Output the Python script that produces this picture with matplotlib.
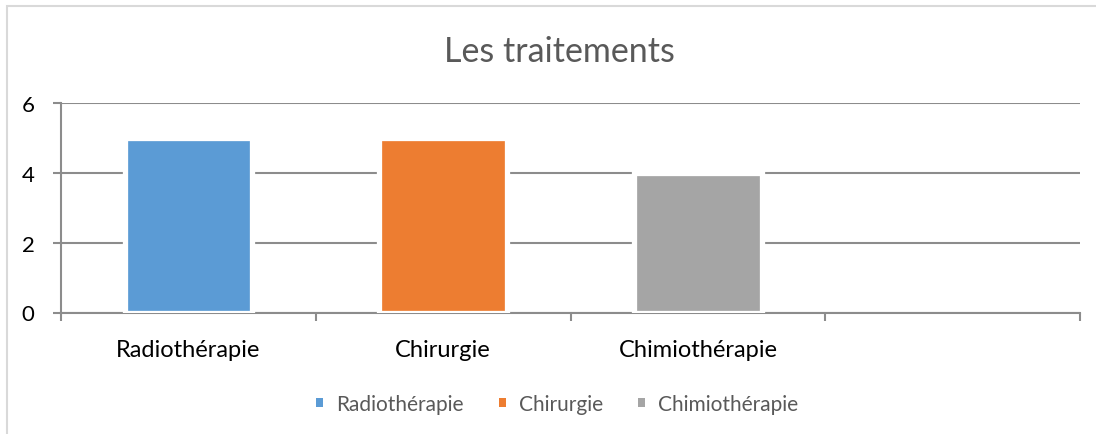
import matplotlib
matplotlib.use("Agg")
import matplotlib.pyplot as plt
from matplotlib.patches import Patch, Rectangle

categories = ["Radiothérapie", "Chirurgie", "Chimiothérapie", ""]
series_names = ["Radiothérapie", "Chirurgie", "Chimiothérapie"]
values = [5, 5, 4]
colors = ["#5B9BD5", "#ED7D31", "#A5A5A5"]
y_ticks = [0, 2, 4, 6]

plt.rcParams['font.family'] = ['Lato', 'DejaVu Sans']

W, H = 1096, 435
fig = plt.figure(figsize=(W / 100, H / 100), dpi=100)

# chart area border
fig.patches.append(Rectangle((7 / W, -0.1), 1.2, 1 - 6.5 / H + 0.1, transform=fig.transFigure,
                             fill=False, edgecolor="#D9D9D9", linewidth=1.5))

ax = fig.add_axes([61 / W, 1 - 313.5 / H, (1080 - 61) / W, (313.5 - 104.3) / H])

grid_c = "#8C8C8C"
for i, (v, c) in enumerate(zip(values, colors)):
    ax.bar(i, v, width=0.5, color=c, edgecolor="white", linewidth=3.8, zorder=3)

ax.set_xlim(-0.5, len(categories) - 0.5)
ax.set_ylim(0, 6)
ax.set_yticks(y_ticks)
ax.set_yticklabels([str(t) for t in y_ticks])
ax.yaxis.grid(True, color=grid_c, linewidth=1.5, zorder=0)
ax.set_axisbelow(True)

ax.set_xticks([i - 0.5 for i in range(len(categories) + 1)])
ax.set_xticklabels([])
ax.set_xticks(range(len(categories)), minor=True)
ax.set_xticklabels(categories, minor=True)

ax.tick_params(axis='x', which='major', length=6, width=1.5, color=grid_c, direction='out')
ax.tick_params(axis='x', which='minor', length=0, pad=19, labelsize=17, labelcolor="#000000")
ax.tick_params(axis='y', length=6, width=1.5, color=grid_c, direction='out', pad=13,
               labelsize=16, labelcolor="#000000")

for s in ['top', 'right']:
    ax.spines[s].set_visible(False)
for s in ['left', 'bottom']:
    ax.spines[s].set_color(grid_c)
    ax.spines[s].set_linewidth(1.5)

fig.text(559 / W, 1 - 61.7 / H, "Les traitements", ha='center', va='baseline',
         fontsize=24.5, color="#595959")

handles = [Patch(facecolor=c, edgecolor='none') for c in colors]
fig.legend(handles, series_names, loc='center', bbox_to_anchor=(557 / W, 1 - 405 / H),
           ncol=3, frameon=False, fontsize=15, labelcolor="#595959",
           handlelength=0.35, handleheight=0.35, handletextpad=0.6, columnspacing=1.7)

fig.savefig("out.png", dpi=100, facecolor="white")
